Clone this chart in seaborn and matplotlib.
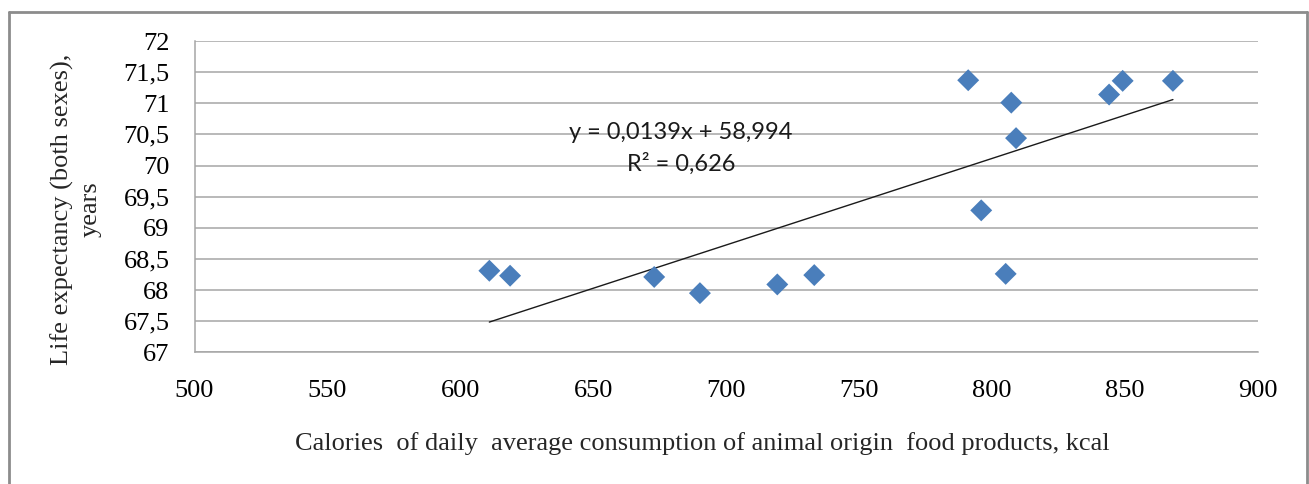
import matplotlib
matplotlib.use("Agg")
import matplotlib.pyplot as plt
from matplotlib.lines import Line2D
import seaborn as sns
import numpy as np
import pandas as pd

# ---- data ----
calories = [610.9, 618.7, 672.9, 690.1, 719.2, 733.1, 791.0, 807.2, 809.0,
            795.9, 805.1, 844.0, 849.1, 868.0]
life_exp = [68.31, 68.23, 68.21, 67.95, 68.09, 68.24, 71.37, 71.01, 70.44,
            69.28, 68.26, 71.14, 71.36, 71.36]
trend_slope = 0.0139
trend_intercept = 58.994
r_squared = 0.626
x_ticks = [500, 550, 600, 650, 700, 750, 800, 850, 900]
y_ticks = [67, 67.5, 68, 68.5, 69, 69.5, 70, 70.5, 71, 71.5, 72]

def comma(v):
    s = ("%g" % v)
    return s.replace(".", ",")

df = pd.DataFrame({"x": calories, "y": life_exp})
trend_x = [min(calories), max(calories)]
trend_df = pd.DataFrame({"x": trend_x,
                         "y": [trend_slope * v + trend_intercept for v in trend_x]})

sns.set_theme(style="white")
plt.rcParams["font.family"] = ["Liberation Serif", "DejaVu Serif"]

W, H = 1309, 484
fig = plt.figure(figsize=(W / 100, H / 100), dpi=100)
ax = fig.add_axes([194.5 / W, 1 - 352.3 / H, (1258 - 194.5) / W, (352.3 - 41) / H])

for yv in y_ticks:
    ax.axhline(yv, color="#a6a6a6", lw=1.1, zorder=0)

sns.lineplot(data=trend_df, x="x", y="y", ax=ax, color="#1a1a1a", lw=1.0, zorder=2)
sns.scatterplot(data=df, x="x", y="y", ax=ax, marker="D", s=125, color="#4a7ebb",
                edgecolor="none", zorder=3)

ax.set_xlim(500, 900)
ax.set_ylim(67, 72)
ax.set_xticks(x_ticks)
ax.set_yticks(y_ticks)
ax.set_xticklabels([comma(v) for v in x_ticks])
ax.set_yticklabels([comma(v) for v in y_ticks])
ax.tick_params(axis="x", length=0, pad=20, labelsize=19, colors="black")
ax.tick_params(axis="y", length=0, pad=18, labelsize=19, colors="black")
ax.set_xlabel("")
ax.set_ylabel("")
for side in ["top", "right"]:
    ax.spines[side].set_visible(False)
for side in ["left", "bottom"]:
    ax.spines[side].set_color("#a6a6a6")
    ax.spines[side].set_linewidth(1.1)
ax.set_facecolor("white")

eq_text = "y = %s x + %s" % (comma(trend_slope), comma(trend_intercept))
eq_text = eq_text.replace(" x", "x")
fig.text(681 / W, 1 - 133 / H, eq_text,
         ha="center", va="center", fontsize=17, family=["Lato", "DejaVu Sans"], color="#1a1a1a")
fig.text(681 / W, 1 - 164 / H, "R² = %s" % comma(r_squared),
         ha="center", va="center", fontsize=17, family=["Lato", "DejaVu Sans"], color="#1a1a1a")

fig.text(702 / W, 1 - 444 / H,
         "Calories  of daily  average consumption of animal origin  food products, kcal",
         ha="center", va="center", fontsize=19)
fig.text(62 / W, 1 - 209 / H, "Life expectancy (both sexes),", rotation=90,
         ha="center", va="center", fontsize=19)
fig.text(91 / W, 1 - 209 / H, "years", rotation=90,
         ha="center", va="center", fontsize=19)

# outer chart border (left, top, right)
bc = "#8c8c8c"
fig.add_artist(Line2D([9 / W, 9 / W], [0, 1 - 12 / H], transform=fig.transFigure, color=bc, lw=2))
fig.add_artist(Line2D([9 / W, 1307 / W], [1 - 12 / H, 1 - 12 / H], transform=fig.transFigure, color=bc, lw=2))
fig.add_artist(Line2D([1307 / W, 1307 / W], [0, 1 - 12 / H], transform=fig.transFigure, color=bc, lw=2))

fig.savefig("out.png", dpi=100, facecolor="white")
